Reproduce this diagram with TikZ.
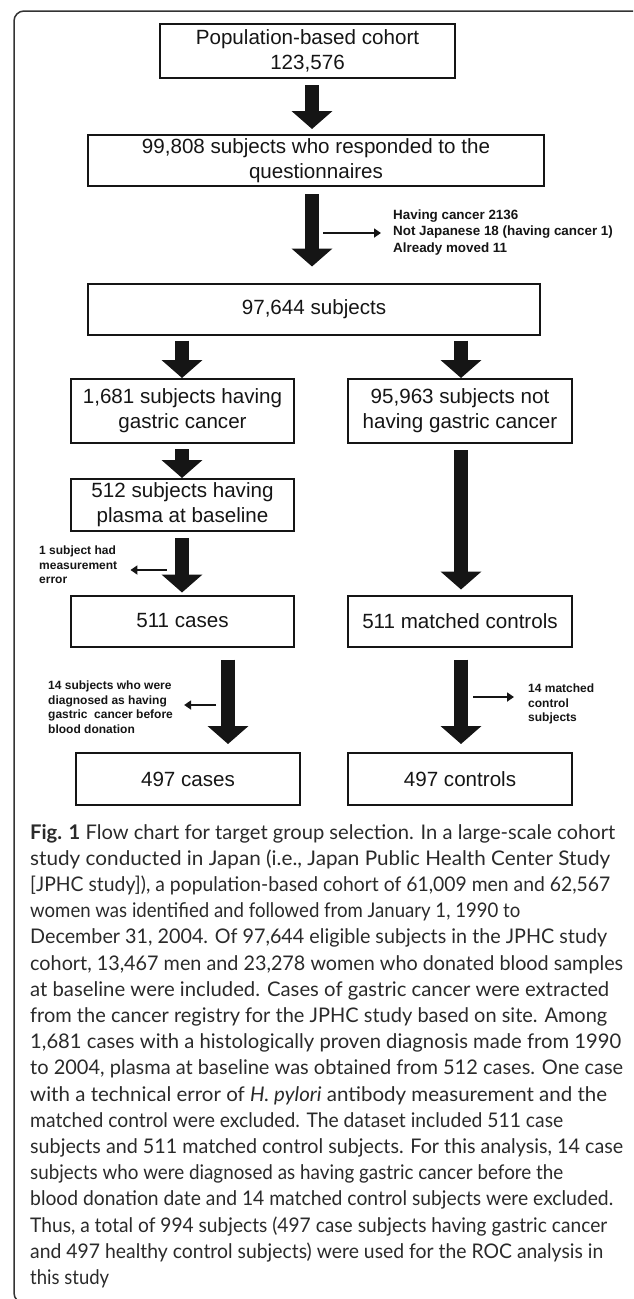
\documentclass[tikz,border=0pt]{standalone}
\usepackage{fontspec}
\usepackage{graphicx}
\usetikzlibrary{arrows.meta}
\setmainfont{Liberation Sans}
\newfontfamily\boxfont{Liberation Sans}
\newfontfamily\capfont{Lato}
\definecolor{ink}{HTML}{151515}
\definecolor{captxt}{HTML}{2A2A2A}
\definecolor{framec}{HTML}{333333}
\newlength\capw
\newcommand\capsizeval{20}
\AtBeginDocument{%
  \settowidth\capw{\capfont\fontsize{20}{24}\selectfont\textbf{Fig. 1} Flow chart for target group selection. In a large-scale cohort}%
  \pgfmathsetmacro\capsizeval{20*585/\capw}%
}
\newsavebox\fitbox
\newlength\fitw
\newcommand\fitline[2]{\sbox\fitbox{#2}\setlength\fitw{\wd\fitbox}\pgfmathsetmacro\fitsx{#1/\fitw}\scalebox{\fitsx}[1]{\usebox\fitbox}}
\tikzset{
  box/.style={draw=ink, line width=2pt, align=center, inner sep=0pt,
    font=\boxfont\fontsize{20.6}{25}\selectfont, text=ink},
  fat/.style={draw=ink, line width=14pt, -{Triangle[width=40pt,length=18pt]}},
  thinarrow/.style={draw=ink, line width=2.2pt, -{Triangle[length=7pt,width=9pt]}},
  notebig/.style={font=\boxfont\bfseries\fontsize{13.4}{16.5}\selectfont, align=left,
    inner sep=0pt, text=ink},
  note/.style={font=\boxfont\bfseries\fontsize{12}{14.5}\selectfont, align=left,
    inner sep=0pt, text=ink},
  framestyle/.style={draw=framec, line width=1.5pt, rounded corners=10pt},
}
\begin{document}
\begin{tikzpicture}[x=1pt,y=-1pt]
\useasboundingbox (0,0) rectangle (633,1299);
% frame
\begin{scope}
\clip (0,0) rectangle (633,1299);
\draw[framestyle] (643,40) -- (643,11) -- (14,11) -- (14,1303) -- (60,1303);
\end{scope}
% boxes
\node[box, minimum width=295pt, minimum height=54pt] (b1) at (307.5,51) {Population-based cohort\\123,576};
\node[box, minimum width=456pt, minimum height=51pt] (b2) at (316,160.5) {99,808 subjects who responded to the\\questionnaires};
\node[box, minimum width=452pt, minimum height=51pt] (b3) at (314,309) {97,644 subjects};
\node[box, minimum width=223pt, minimum height=64pt] (b4l) at (182.5,411) {1,681 subjects having\\gastric cancer};
\node[box, minimum width=224pt, minimum height=64pt] (b4r) at (460,411) {95,963 subjects not\\having gastric cancer};
\node[box, minimum width=223pt, minimum height=52pt] (b5) at (182.5,505) {512 subjects having\\plasma at baseline};
\node[box, minimum width=223pt, minimum height=51pt] (b6l) at (182.5,621) {511 cases};
\node[box, minimum width=224pt, minimum height=51pt] (b6r) at (460,621) {511 matched controls};
\node[box, minimum width=224pt, minimum height=52pt] (b7l) at (188,779) {497 cases};
\node[box, minimum width=224pt, minimum height=52pt] (b7r) at (460,779) {497 controls};
% arrow axes
\coordinate (xa) at (312,0);
\coordinate (xl) at (182,0);
\coordinate (xr) at (461,0);
\coordinate (xl2) at (228,0);
% fat arrows
\draw[fat, shorten <=6pt, shorten >=5pt] (b1.south -| xa) -- (b2.north -| xa);
\draw[fat, shorten <=7pt, shorten >=16pt] (b2.south -| xa) -- (b3.north -| xa);
\draw[fat, shorten <=5pt] (b3.south -| xl) -- (b4l.north -| xl);
\draw[fat, shorten <=5pt] (b3.south -| xr) -- (b4r.north -| xr);
\draw[fat, shorten <=5pt] (b4l.south -| xl) -- (b5.north -| xl);
\draw[fat, shorten <=6pt, shorten >=2pt] (b5.south -| xl) -- (b6l.north -| xl);
\draw[fat, shorten <=6pt, shorten >=5pt] (b4r.south -| xr) -- (b6r.north -| xr);
\draw[fat, shorten <=12pt, shorten >=8pt] (b6l.south -| xl2) -- (b7l.north -| xl2);
\draw[fat, shorten <=12pt, shorten >=8pt] (b6r.south -| xr) -- (b7r.north -| xr);
% side notes
\node[notebig, anchor=west] (n1) at (393,232.5) {Having cancer 2136\\Not Japanese 18 (having cancer 1)\\Already moved 11};
\coordinate (s1) at (323,233);
\draw[thinarrow, shorten >=12pt] (s1) -- (s1 -| n1.west);
\node[note, anchor=west] (n2) at (39,565) {1 subject had\\measurement\\error};
\coordinate (s2) at (167,570);
\draw[thinarrow, shorten >=13pt] (s2) -- (s2 -| n2.east);
\node[note, anchor=west] (n3) at (48,707) {14 subjects who were\\diagnosed as having\\gastric~ cancer before\\blood donation};
\coordinate (s3) at (216,705);
\draw[thinarrow, shorten >=11pt] (s3) -- (s3 -| n3.east);
\node[note, anchor=west] (n4) at (528,704) {14 matched\\control\\subjects};
\coordinate (s4) at (473,697);
\draw[thinarrow, shorten >=14pt] (s4) -- (s4 -| n4.west);
% caption
\node[anchor=north west, inner sep=0pt, align=left, text=captxt,
  font={\capfont\fontsize{\capsizeval}{26.2}\selectfont}] (cap) at (30,824)
{\fitline{585}{\textbf{Fig. 1} Flow chart for target group selection. In a large-scale cohort}\\
\fitline{580}{study conducted in Japan (i.e., Japan Public Health Center Study}\\
\fitline{580}{{[}JPHC study{]}), a population-based cohort of 61,009 men and 62,567}\\
\fitline{490}{women was identified and followed from January 1, 1990 to}\\
\fitline{577}{December 31, 2004. Of 97,644 eligible subjects in the JPHC study}\\
\fitline{593}{cohort, 13,467 men and 23,278 women who donated blood samples}\\
\fitline{579}{at baseline were included. Cases of gastric cancer were extracted}\\
\fitline{577}{from the cancer registry for the JPHC study based on site. Among}\\
\fitline{591}{1,681 cases with a histologically proven diagnosis made from 1990}\\
\fitline{593}{to 2004, plasma at baseline was obtained from 512 cases. One case}\\
\fitline{577}{with a technical error of \textit{H. pylori} antibody measurement and the}\\
\fitline{533}{matched control were excluded. The dataset included 511 case}\\
\fitline{593}{subjects and 511 matched control subjects. For this analysis, 14 case}\\
\fitline{533}{subjects who were diagnosed as having gastric cancer before the}\\
\fitline{583}{blood donation date and 14 matched control subjects were excluded.}\\
\fitline{577}{Thus, a total of 994 subjects (497 case subjects having gastric cancer}\\
\fitline{573}{and 497 healthy control subjects) were used for the ROC analysis in}\\
\fitline{79}{this study}};
\end{tikzpicture}
\end{document}
